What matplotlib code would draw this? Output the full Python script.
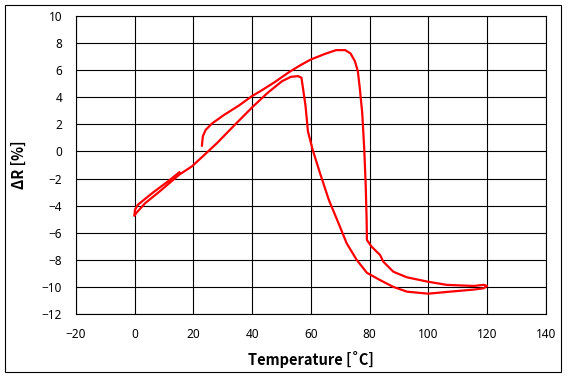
import matplotlib
matplotlib.use("Agg")
import matplotlib.pyplot as plt
from matplotlib.patches import Rectangle

temperature = [22.9, 23.2, 24.2, 26.3, 30.6, 35.5, 39.9, 42.8, 47.7, 52.6, 56.3, 60.0, 64.9,
               68.6, 71.7, 73.5, 75.0, 76.0, 76.6, 77.5, 78.2, 78.7, 79.0, 79.1, 80.7, 83.6,
               84.7, 88.1, 92.7, 99.5, 106.3, 115.4, 118.9, 120.0, 118.9,
               115.4, 107.4, 100.0, 92.7, 88.1, 83.6, 79.1, 75.6, 72.2, 69.9, 66.1, 63.1,
               60.6, 59.0, 58.2, 57.3, 56.8, 55.7, 53.2, 50.2, 45.3, 40.4, 34.2, 28.1, 23.2,
               19.5, 15.2, 8.5, 3.6, 0.5, -0.1, 0.1, 1.1, 6.0, 10.9, 15.2]
delta_r = [0.43, 1.12, 1.6, 2.06, 2.72, 3.39, 4.08, 4.45, 5.12, 5.86, 6.35, 6.79, 7.21,
           7.48, 7.48, 7.24, 6.67, 5.93, 4.82, 2.85, 0.14, -2.58, -5.04, -6.54, -7.03, -7.65,
           -8.14, -8.88, -9.29, -9.6, -9.85, -9.93, -9.85, -9.93, -10.1,
           -10.2, -10.35, -10.5, -10.35, -10.0, -9.5, -8.96, -8.0, -6.78, -5.55, -3.56, -1.59,
           0.14, 1.49, 3.34, 4.7, 5.44, 5.56, 5.51, 5.19, 4.33, 3.34, 1.99, 0.63, -0.36,
           -1.1, -1.71, -2.95, -3.81, -4.55, -4.75, -4.3, -3.93, -3.07, -2.28, -1.54]

x_ticks = list(range(-20, 141, 20))
y_ticks = list(range(-12, 11, 2))

plt.rcParams['font.family'] = ['Noto Sans', 'Noto Sans CJK KR', 'DejaVu Sans']

fig = plt.figure(figsize=(5.68, 3.79), dpi=100)
ax = fig.add_axes([76/568, 1-314/379, (545.7-76)/568, (314-16)/379])

ax.plot(temperature, delta_r, color='#ff0000', lw=1.6, solid_joinstyle='round')

ax.set_xlim(-20, 140)
ax.set_ylim(-12, 10)
ax.set_xticks(x_ticks)
ax.set_yticks(y_ticks)
ax.grid(True, color='black', lw=0.8)
ax.set_axisbelow(True)
ax.tick_params(length=0, labelsize=8.5, pad=10)
for s in ax.spines.values():
    s.set_color('black')
    s.set_linewidth(0.8)

ax.set_xlabel('Temperature [˚C]', fontsize=10.5, fontweight='bold', labelpad=7,
              family=['Noto Sans CJK KR', 'DejaVu Sans'])
ax.set_ylabel('ΔR [%]', fontsize=10.5, fontweight='bold', labelpad=11,
              family=['Noto Sans CJK KR', 'DejaVu Sans'])

fig.patches.append(Rectangle((5/568, 1-372/379), 556/568, 367/379, transform=fig.transFigure,
                             fill=False, edgecolor='black', lw=0.8))

fig.savefig('out.png', dpi=100, facecolor='white')
